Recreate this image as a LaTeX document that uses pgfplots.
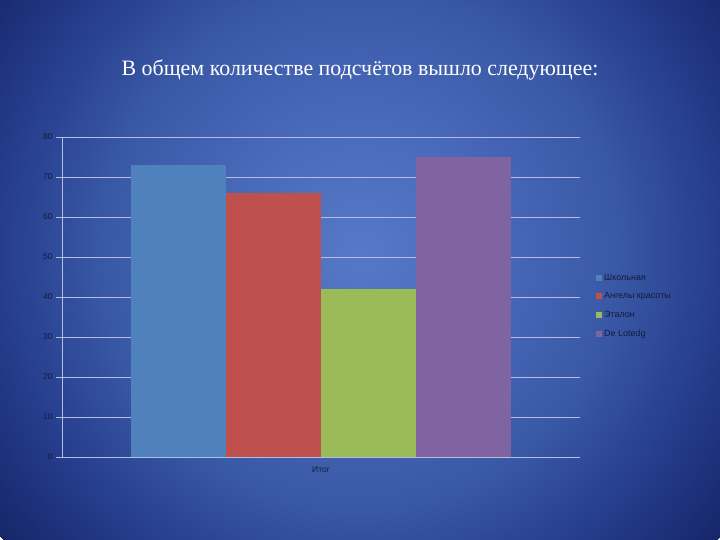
\documentclass[border=0pt]{standalone}
\usepackage{pgfplots}
\pgfplotsset{compat=1.18}
\usepackage{fontspec}
\setmainfont{Liberation Serif}
\newfontfamily\sans{Liberation Sans}
\definecolor{bgA}{HTML}{5678C6}
\definecolor{bgB}{HTML}{4A6BBA}
\definecolor{bgC}{HTML}{3A5AA8}
\definecolor{bgD}{HTML}{253D8C}
\definecolor{bgE}{HTML}{16266A}
\definecolor{s1}{HTML}{4F81BD}
\definecolor{s2}{HTML}{C0504D}
\definecolor{s3}{HTML}{9BBB59}
\definecolor{s4}{HTML}{8064A2}
\definecolor{gridc}{HTML}{B4BEE0}
\definecolor{labc}{HTML}{161B3A}
\pgfdeclareradialshading{bgshade}{\pgfpoint{0bp}{0bp}}{color(0bp)=(bgA); color(120bp)=(bgB); color(250bp)=(bgC); color(360bp)=(bgD); color(460bp)=(bgE)}
\begin{document}
\begin{tikzpicture}
\useasboundingbox (0,0) rectangle (720bp,540bp);
\begin{scope}
\clip (0,0) rectangle (720bp,540bp);
\node[inner sep=0pt] at (360bp,290bp) {\pgfuseshading{bgshade}};
\end{scope}
\node[text=white, font=\fontsize{22}{26}\selectfont] at (360bp,470bp) {В общем количестве подсчётов вышло следующее:};
\begin{axis}[
  at={(62bp,83bp)}, anchor=south west,
  scale only axis, width=518bp, height=320bp,
  xmin=-1, xmax=1, ymin=0, ymax=80,
  ytick={0,10,...,80},
  xtick={0}, xticklabels={Итог},
  ybar=0pt, bar width=95bp,
  axis lines*=left,
  axis line style={draw=gridc, line width=0.7pt},
  ymajorgrids, grid style={draw=gridc, line width=0.7pt},
  tick align=outside, major tick length=6bp,
  ytick style={draw=gridc, line width=0.7pt},
  xtick style={draw=none},
  /pgf/number format/assume math mode=true,
  ticklabel style={font=\sans\fontsize{8.5}{10}\selectfont, text=labc},
  legend style={at={(1.025,0.585)}, anchor=north west, draw=none, fill=none,
    font=\sans\fontsize{9}{10}\selectfont, text=labc, row sep=7bp},
  legend cell align=left,
  legend image code/.code={\fill[#1] (0bp,-3bp) rectangle (6bp,3bp);},
]
\addplot[fill=s1, draw=none] coordinates {(0,73)};
\addplot[fill=s2, draw=none] coordinates {(0,66)};
\addplot[fill=s3, draw=none] coordinates {(0,42)};
\addplot[fill=s4, draw=none] coordinates {(0,75)};
\legend{Школьная, Ангелы красоты, Эталон, De Lotedg}
\end{axis}
\end{tikzpicture}
\end{document}
